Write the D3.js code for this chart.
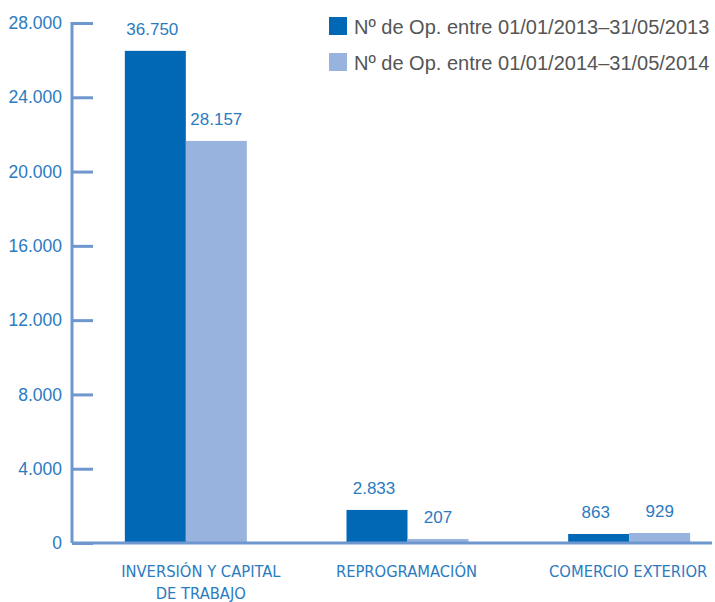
<!DOCTYPE html>
<html><head><meta charset="utf-8">
<script src="https://cdn.jsdelivr.net/npm/d3@7"></script>
<style>body{margin:0;background:#fff}</style>
</head><body>
<svg id="c" width="715" height="602"></svg>
<script>
const categories = ["INVERSIÓN Y CAPITAL|DE TRABAJO", "REPROGRAMACIÓN", "COMERCIO EXTERIOR"];
const seriesNames = ["Nº de Op. entre 01/01/2013–31/05/2013", "Nº de Op. entre 01/01/2014–31/05/2014"];
// bar heights as drawn in the picture
const series2013 = [26500, 1780, 485];
const series2014 = [21650, 215, 540];
// labels printed above the bars
const labels2013 = ["36.750", "2.833", "863"];
const labels2014 = ["28.157", "207", "929"];
const yTicks = [0, 4000, 8000, 12000, 16000, 20000, 24000, 28000];
const yTickLabels = ["0", "4.000", "8.000", "12.000", "16.000", "20.000", "24.000", "28.000"];

const colors = ["#0068b4", "#98b3dd"];
const axisColor = "#6e97cf";
const textBlue = "#2b7bbf";

const svg = d3.select("#c");
const y = d3.scaleLinear().domain([0, 28000]).range([543, 23]);
const x0 = d3.scaleBand().domain(categories).range([75, 740]).padding(0);
const x1 = d3.scaleBand().domain(seriesNames).range([0, x0.bandwidth()]).paddingInner(0).paddingOuter(0.817);

// y axis
const yAxis = d3.axisRight(y).tickValues(yTicks).tickSize(21).tickFormat("");
const gy = svg.append("g").attr("transform", "translate(72,0)").call(yAxis);
gy.select(".domain").attr("stroke", axisColor).attr("stroke-width", 3).attr("d", `M0,${y(28000)-1}V${y(0)}`);
gy.selectAll(".tick line").attr("stroke", axisColor).attr("stroke-width", 3);

svg.append("g").selectAll("text").data(yTicks).join("text")
  .attr("x", 62).attr("y", d => y(d)).attr("dy", "0.35em")
  .attr("text-anchor", "end").attr("fill", textBlue)
  .style("font-family", "'Liberation Sans', Arial, sans-serif").style("font-size", "17.5px")
  .text((d, i) => yTickLabels[i]);

// bars
const data = categories.map((c, i) => ({c, vals: [
  {s: seriesNames[0], v: series2013[i], l: labels2013[i], k: 0},
  {s: seriesNames[1], v: series2014[i], l: labels2014[i], k: 1}]}));

const g = svg.append("g").selectAll("g").data(data).join("g")
  .attr("transform", d => `translate(${x0(d.c)},0)`);
g.selectAll("rect").data(d => d.vals).join("rect")
  .attr("x", d => x1(d.s)).attr("width", x1.bandwidth())
  .attr("y", d => y(d.v)).attr("height", d => y(0) - y(d.v))
  .attr("fill", d => colors[d.k]);
g.selectAll("text").data(d => d.vals).join("text")
  .attr("x", d => x1(d.s) + x1.bandwidth() / 2 + (d.k === 0 ? -3 : 0))
  .attr("y", d => Math.min(y(d.v) - 16, 526))
  .attr("text-anchor", "middle").attr("fill", textBlue)
  .style("font-family", "'Liberation Sans', Arial, sans-serif").style("font-size", "17px")
  .text(d => d.l);

// baseline
svg.append("line").attr("x1", 72).attr("x2", 712).attr("y1", y(0)).attr("y2", y(0))
  .attr("stroke", axisColor).attr("stroke-width", 3);

// category labels
const catG = svg.append("g").selectAll("text").data(categories).join("text")
  .attr("x", (d, i) => x0(d) + x0.bandwidth() / 2 + (i === 0 ? 15 : -1))
  .attr("y", 577).attr("text-anchor", "middle").attr("fill", textBlue)
  .style("font-family", "'Liberation Sans Narrow', 'DejaVu Sans Condensed', sans-serif").style("font-size", "16.4px");
catG.each(function(d) {
  const lines = d.split("|");
  const t = d3.select(this), xx = t.attr("x");
  lines.forEach((ln, j) => t.append("tspan").attr("x", xx).attr("dy", j ? 22 : 0).text(ln));
});

// legend
const lg = svg.append("g").selectAll("g").data(seriesNames).join("g")
  .attr("transform", (d, i) => `translate(329,${17 + i * 36})`);
lg.append("rect").attr("width", 18).attr("height", 18).attr("fill", (d, i) => colors[i]);
lg.append("text").attr("x", 25).attr("y", 17).attr("fill", "#555")
  .style("font-family", "'Liberation Sans', Arial, sans-serif").style("font-size", "20px")
  .text(d => d);
</script>
</body></html>
